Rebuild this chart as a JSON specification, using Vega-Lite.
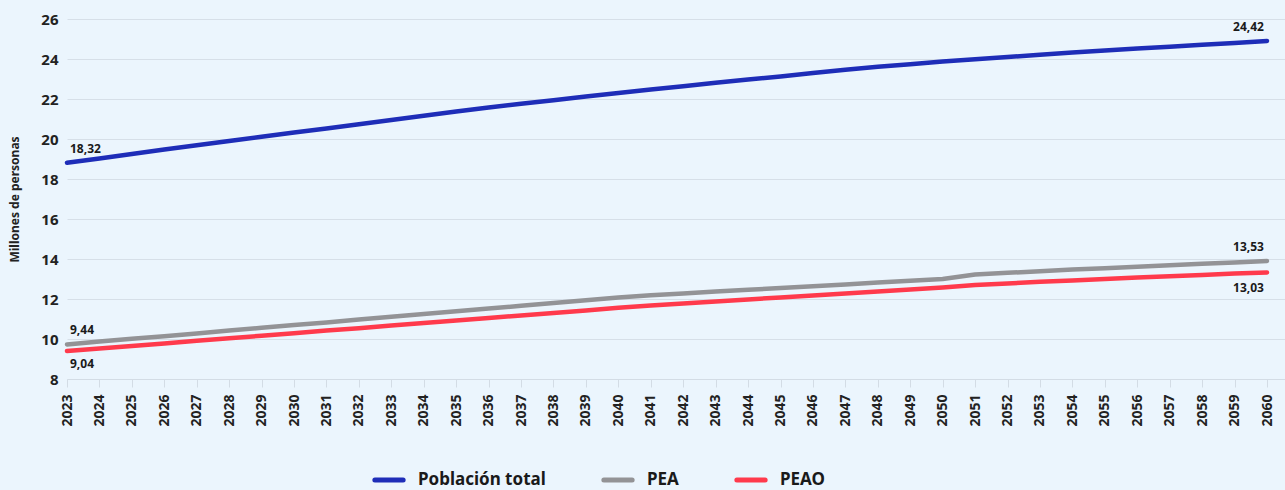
{
  "$schema": "https://vega.github.io/schema/vega-lite/v6.json",
  "width": 1218,
  "height": 360,
  "autosize": {"type": "none"},
  "padding": {"left": 67, "top": 19, "right": 0, "bottom": 111},
  "background": "#EBF5FD",
  "config": {"view": {"stroke": null}, "font": "Noto Sans"},
  "data": {
    "values": [
      {"Año": 2023, "Serie": "Población total", "Valor": 18.81, "Etiqueta": "18,32"},
      {"Año": 2024, "Serie": "Población total", "Valor": 19.03},
      {"Año": 2025, "Serie": "Población total", "Valor": 19.25},
      {"Año": 2026, "Serie": "Población total", "Valor": 19.47},
      {"Año": 2027, "Serie": "Población total", "Valor": 19.69},
      {"Año": 2028, "Serie": "Población total", "Valor": 19.9},
      {"Año": 2029, "Serie": "Población total", "Valor": 20.11},
      {"Año": 2030, "Serie": "Población total", "Valor": 20.32},
      {"Año": 2031, "Serie": "Población total", "Valor": 20.53},
      {"Año": 2032, "Serie": "Población total", "Valor": 20.74},
      {"Año": 2033, "Serie": "Población total", "Valor": 20.95},
      {"Año": 2034, "Serie": "Población total", "Valor": 21.16},
      {"Año": 2035, "Serie": "Población total", "Valor": 21.37},
      {"Año": 2036, "Serie": "Población total", "Valor": 21.57},
      {"Año": 2037, "Serie": "Población total", "Valor": 21.76},
      {"Año": 2038, "Serie": "Población total", "Valor": 21.94},
      {"Año": 2039, "Serie": "Población total", "Valor": 22.12},
      {"Año": 2040, "Serie": "Población total", "Valor": 22.3},
      {"Año": 2041, "Serie": "Población total", "Valor": 22.47},
      {"Año": 2042, "Serie": "Población total", "Valor": 22.64},
      {"Año": 2043, "Serie": "Población total", "Valor": 22.81},
      {"Año": 2044, "Serie": "Población total", "Valor": 22.97},
      {"Año": 2045, "Serie": "Población total", "Valor": 23.13},
      {"Año": 2046, "Serie": "Población total", "Valor": 23.3},
      {"Año": 2047, "Serie": "Población total", "Valor": 23.46},
      {"Año": 2048, "Serie": "Población total", "Valor": 23.61},
      {"Año": 2049, "Serie": "Población total", "Valor": 23.74},
      {"Año": 2050, "Serie": "Población total", "Valor": 23.87},
      {"Año": 2051, "Serie": "Población total", "Valor": 23.99},
      {"Año": 2052, "Serie": "Población total", "Valor": 24.1},
      {"Año": 2053, "Serie": "Población total", "Valor": 24.21},
      {"Año": 2054, "Serie": "Población total", "Valor": 24.32},
      {"Año": 2055, "Serie": "Población total", "Valor": 24.42},
      {"Año": 2056, "Serie": "Población total", "Valor": 24.52},
      {"Año": 2057, "Serie": "Población total", "Valor": 24.61},
      {"Año": 2058, "Serie": "Población total", "Valor": 24.71},
      {"Año": 2059, "Serie": "Población total", "Valor": 24.8},
      {"Año": 2060, "Serie": "Población total", "Valor": 24.9, "Etiqueta": "24,42"},
      {"Año": 2023, "Serie": "PEA", "Valor": 9.73, "Etiqueta": "9,44"},
      {"Año": 2024, "Serie": "PEA", "Valor": 9.87},
      {"Año": 2025, "Serie": "PEA", "Valor": 10.01},
      {"Año": 2026, "Serie": "PEA", "Valor": 10.14},
      {"Año": 2027, "Serie": "PEA", "Valor": 10.28},
      {"Año": 2028, "Serie": "PEA", "Valor": 10.42},
      {"Año": 2029, "Serie": "PEA", "Valor": 10.56},
      {"Año": 2030, "Serie": "PEA", "Valor": 10.7},
      {"Año": 2031, "Serie": "PEA", "Valor": 10.83},
      {"Año": 2032, "Serie": "PEA", "Valor": 10.97},
      {"Año": 2033, "Serie": "PEA", "Valor": 11.11},
      {"Año": 2034, "Serie": "PEA", "Valor": 11.25},
      {"Año": 2035, "Serie": "PEA", "Valor": 11.39},
      {"Año": 2036, "Serie": "PEA", "Valor": 11.52},
      {"Año": 2037, "Serie": "PEA", "Valor": 11.66},
      {"Año": 2038, "Serie": "PEA", "Valor": 11.8},
      {"Año": 2039, "Serie": "PEA", "Valor": 11.94},
      {"Año": 2040, "Serie": "PEA", "Valor": 12.07},
      {"Año": 2041, "Serie": "PEA", "Valor": 12.19},
      {"Año": 2042, "Serie": "PEA", "Valor": 12.28},
      {"Año": 2043, "Serie": "PEA", "Valor": 12.37},
      {"Año": 2044, "Serie": "PEA", "Valor": 12.46},
      {"Año": 2045, "Serie": "PEA", "Valor": 12.55},
      {"Año": 2046, "Serie": "PEA", "Valor": 12.64},
      {"Año": 2047, "Serie": "PEA", "Valor": 12.73},
      {"Año": 2048, "Serie": "PEA", "Valor": 12.82},
      {"Año": 2049, "Serie": "PEA", "Valor": 12.91},
      {"Año": 2050, "Serie": "PEA", "Valor": 13.0},
      {"Año": 2051, "Serie": "PEA", "Valor": 13.23},
      {"Año": 2052, "Serie": "PEA", "Valor": 13.31},
      {"Año": 2053, "Serie": "PEA", "Valor": 13.39},
      {"Año": 2054, "Serie": "PEA", "Valor": 13.47},
      {"Año": 2055, "Serie": "PEA", "Valor": 13.54},
      {"Año": 2056, "Serie": "PEA", "Valor": 13.61},
      {"Año": 2057, "Serie": "PEA", "Valor": 13.69},
      {"Año": 2058, "Serie": "PEA", "Valor": 13.76},
      {"Año": 2059, "Serie": "PEA", "Valor": 13.83},
      {"Año": 2060, "Serie": "PEA", "Valor": 13.9, "Etiqueta": "13,53"},
      {"Año": 2023, "Serie": "PEAO", "Valor": 9.4, "Etiqueta": "9,04"},
      {"Año": 2024, "Serie": "PEAO", "Valor": 9.53},
      {"Año": 2025, "Serie": "PEAO", "Valor": 9.65},
      {"Año": 2026, "Serie": "PEAO", "Valor": 9.78},
      {"Año": 2027, "Serie": "PEAO", "Valor": 9.91},
      {"Año": 2028, "Serie": "PEAO", "Valor": 10.04},
      {"Año": 2029, "Serie": "PEAO", "Valor": 10.16},
      {"Año": 2030, "Serie": "PEAO", "Valor": 10.29},
      {"Año": 2031, "Serie": "PEAO", "Valor": 10.42},
      {"Año": 2032, "Serie": "PEAO", "Valor": 10.54},
      {"Año": 2033, "Serie": "PEAO", "Valor": 10.67},
      {"Año": 2034, "Serie": "PEAO", "Valor": 10.8},
      {"Año": 2035, "Serie": "PEAO", "Valor": 10.92},
      {"Año": 2036, "Serie": "PEAO", "Valor": 11.05},
      {"Año": 2037, "Serie": "PEAO", "Valor": 11.18},
      {"Año": 2038, "Serie": "PEAO", "Valor": 11.3},
      {"Año": 2039, "Serie": "PEAO", "Valor": 11.43},
      {"Año": 2040, "Serie": "PEAO", "Valor": 11.56},
      {"Año": 2041, "Serie": "PEAO", "Valor": 11.68},
      {"Año": 2042, "Serie": "PEAO", "Valor": 11.78},
      {"Año": 2043, "Serie": "PEAO", "Valor": 11.88},
      {"Año": 2044, "Serie": "PEAO", "Valor": 11.98},
      {"Año": 2045, "Serie": "PEAO", "Valor": 12.08},
      {"Año": 2046, "Serie": "PEAO", "Valor": 12.18},
      {"Año": 2047, "Serie": "PEAO", "Valor": 12.28},
      {"Año": 2048, "Serie": "PEAO", "Valor": 12.38},
      {"Año": 2049, "Serie": "PEAO", "Valor": 12.48},
      {"Año": 2050, "Serie": "PEAO", "Valor": 12.58},
      {"Año": 2051, "Serie": "PEAO", "Valor": 12.7},
      {"Año": 2052, "Serie": "PEAO", "Valor": 12.78},
      {"Año": 2053, "Serie": "PEAO", "Valor": 12.86},
      {"Año": 2054, "Serie": "PEAO", "Valor": 12.93},
      {"Año": 2055, "Serie": "PEAO", "Valor": 13.0},
      {"Año": 2056, "Serie": "PEAO", "Valor": 13.07},
      {"Año": 2057, "Serie": "PEAO", "Valor": 13.14},
      {"Año": 2058, "Serie": "PEAO", "Valor": 13.2},
      {"Año": 2059, "Serie": "PEAO", "Valor": 13.27},
      {"Año": 2060, "Serie": "PEAO", "Valor": 13.33, "Etiqueta": "13,03"}
    ]
  },
  "encoding": {
    "x": {
      "field": "Año",
      "type": "quantitative",
      "scale": {"domain": [2023, 2060.555], "nice": false, "zero": false},
      "axis": {
        "values": [2023, 2024, 2025, 2026, 2027, 2028, 2029, 2030, 2031, 2032, 2033, 2034, 2035, 2036, 2037, 2038, 2039, 2040, 2041, 2042, 2043, 2044, 2045, 2046, 2047, 2048, 2049, 2050, 2051, 2052, 2053, 2054, 2055, 2056, 2057, 2058, 2059, 2060],
        "format": "d",
        "labelAngle": -90,
        "labelFontSize": 14,
        "labelFontWeight": "bold",
        "labelColor": "#222222",
        "labelPadding": 7,
        "labelOverlap": false,
        "labelFlush": false,
        "tickColor": "#D3DCE5",
        "tickSize": 8,
        "domain": true,
        "domainColor": "#D3DCE5",
        "grid": false,
        "title": null
      }
    },
    "y": {
      "field": "Valor",
      "type": "quantitative",
      "scale": {"domain": [8, 26], "nice": false, "zero": false},
      "axis": {
        "values": [8, 10, 12, 14, 16, 18, 20, 22, 24, 26],
        "grid": true,
        "gridColor": "#D6DFE8",
        "ticks": false,
        "domain": false,
        "labelFontSize": 15,
        "labelFontWeight": "bold",
        "labelColor": "#222222",
        "labelPadding": 9,
        "title": "Millones de personas",
        "titleFontSize": 12,
        "titleFontWeight": "bold",
        "titleColor": "#222222",
        "titlePadding": 19
      }
    }
  },
  "layer": [
    {
      "mark": {"type": "line", "strokeWidth": 4.5, "strokeCap": "round", "strokeJoin": "round"},
      "encoding": {
        "color": {
          "field": "Serie",
          "type": "nominal",
          "scale": {"domain": ["Población total", "PEA", "PEAO"], "range": ["#1E2DB8", "#939396", "#FF3A4C"]},
          "legend": {
            "orient": "none",
            "legendX": 305,
            "legendY": 444,
            "direction": "horizontal",
            "title": null,
            "symbolType": "stroke",
            "symbolSize": 800,
            "symbolStrokeWidth": 5,
            "labelFontSize": 17,
            "labelFontWeight": "bold",
            "labelColor": "#1A1A1A",
            "labelOffset": 12,
            "columnPadding": 47,
            "encode": {"symbols": {"update": {"strokeCap": {"value": "round"}}}}
          }
        }
      }
    },
    {
      "transform": [{"filter": "datum.Etiqueta && datum.Año == 2023 && datum.Serie != 'PEAO'"}],
      "mark": {"type": "text", "align": "left", "dx": 3, "dy": -14, "fontSize": 12, "fontWeight": "bold", "color": "#1A1A1A"},
      "encoding": {"text": {"field": "Etiqueta"}}
    },
    {
      "transform": [{"filter": "datum.Etiqueta && datum.Año == 2060 && datum.Serie != 'PEAO'"}],
      "mark": {"type": "text", "align": "right", "dx": -3, "dy": -14, "fontSize": 12, "fontWeight": "bold", "color": "#1A1A1A"},
      "encoding": {"text": {"field": "Etiqueta"}}
    },
    {
      "transform": [{"filter": "datum.Etiqueta && datum.Año == 2023 && datum.Serie == 'PEAO'"}],
      "mark": {"type": "text", "align": "left", "dx": 3, "dy": 13, "fontSize": 12, "fontWeight": "bold", "color": "#1A1A1A"},
      "encoding": {"text": {"field": "Etiqueta"}}
    },
    {
      "transform": [{"filter": "datum.Etiqueta && datum.Año == 2060 && datum.Serie == 'PEAO'"}],
      "mark": {"type": "text", "align": "right", "dx": -3, "dy": 16, "fontSize": 12, "fontWeight": "bold", "color": "#1A1A1A"},
      "encoding": {"text": {"field": "Etiqueta"}}
    }
  ]
}
